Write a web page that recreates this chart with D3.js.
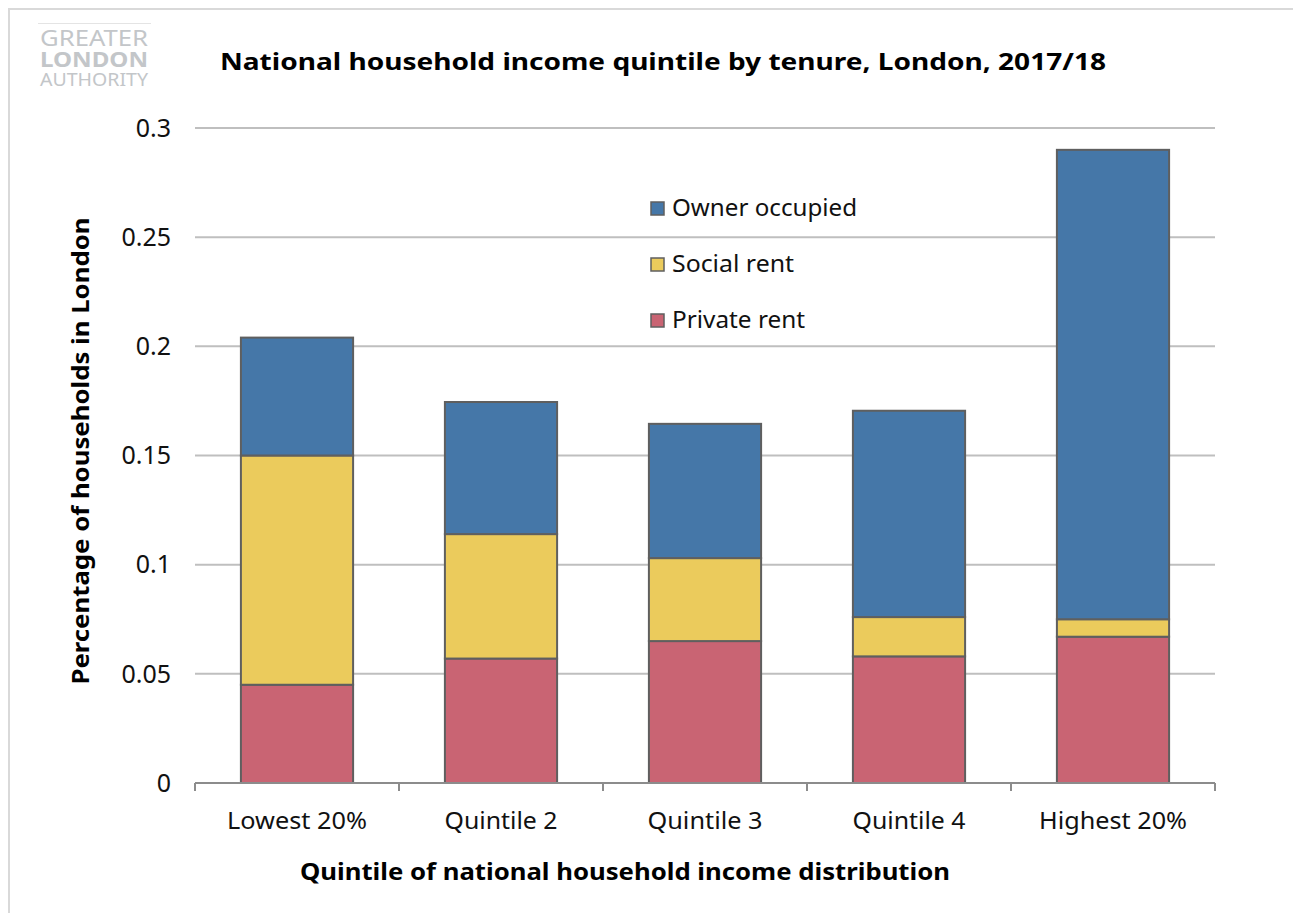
<!DOCTYPE html>
<html><head><meta charset="utf-8">
<script src="https://cdn.jsdelivr.net/npm/d3@7"></script>
<style>body{margin:0;background:#fff}svg{display:block}text{font-family:"Noto Sans","Open Sans",sans-serif}</style>
</head><body>
<script>
const categories = ["Lowest 20%", "Quintile 2", "Quintile 3", "Quintile 4", "Highest 20%"];
const seriesNames = ["Private rent", "Social rent", "Owner occupied"];
const privateRent = [0.045, 0.057, 0.065, 0.058, 0.067];
const socialRent = [0.105, 0.057, 0.038, 0.018, 0.008];
const ownerOccupied = [0.054, 0.0605, 0.0615, 0.0945, 0.215];
const yTicks = [0, 0.05, 0.1, 0.15, 0.2, 0.25, 0.3];
const colors = {"Private rent": "#C96473", "Social rent": "#EBCB5C", "Owner occupied": "#4577A8"};

const W = 1293, H = 913;
const svg = d3.select("body").append("svg").attr("width", W).attr("height", H);
// frame
svg.append("rect").attr("x", 9).attr("y", 9).attr("width", W + 10).attr("height", H + 10)
  .attr("fill", "none").attr("stroke", "#d9d9d9").attr("stroke-width", 2);

// logo (single text block)
svg.append("line").attr("x1", 38).attr("x2", 151).attr("y1", 23.5).attr("y2", 23.5).attr("stroke", "#e4e4e4").attr("stroke-width", 1);
const logo = svg.append("text").attr("text-anchor", "middle").attr("fill", "#c3c6c9");
logo.append("tspan").attr("x", 94).attr("y", 46).attr("font-size", 21)
  .attr("textLength", 108).attr("lengthAdjust", "spacingAndGlyphs").text("GREATER");
logo.append("tspan").attr("x", 94).attr("y", 67).attr("font-size", 21).attr("font-weight", "bold")
  .attr("textLength", 108).attr("lengthAdjust", "spacingAndGlyphs").text("LONDON");
logo.append("tspan").attr("x", 94).attr("y", 86).attr("font-size", 18)
  .attr("textLength", 108).attr("lengthAdjust", "spacingAndGlyphs").text("AUTHORITY");

const x0 = 195, x1 = 1215, yTop = 128, yBot = 783;
const x = d3.scaleBand().domain(categories).range([x0, x1]).paddingInner(0.45).paddingOuter(0.225);
const y = d3.scaleLinear().domain([0, 0.3]).range([yBot, yTop]);

// gridlines
svg.append("g").selectAll("line").data(yTicks.filter(d => d > 0)).join("line")
  .attr("x1", x0).attr("x2", x1).attr("y1", d => y(d)).attr("y2", d => y(d))
  .attr("stroke", "#bfbfbf").attr("stroke-width", 2);

// y labels
svg.append("g").selectAll("text").data(yTicks).join("text")
  .attr("x", 171).attr("y", d => y(d)).attr("dy", "0.35em").attr("text-anchor", "end")
  .attr("font-size", 25).attr("fill", "#111").text(d => d3.format("")(d));

// stacked bars
const rows = categories.map((c, i) => ({cat: c, "Private rent": privateRent[i], "Social rent": socialRent[i], "Owner occupied": ownerOccupied[i]}));
const stack = d3.stack().keys(seriesNames)(rows);
svg.append("g").selectAll("g").data(stack).join("g").attr("fill", d => colors[d.key])
  .selectAll("rect").data(d => d).join("rect")
  .attr("x", d => x(d.data.cat)).attr("width", x.bandwidth())
  .attr("y", d => y(d[1])).attr("height", d => y(d[0]) - y(d[1]))
  .attr("stroke", "#5f5f5f").attr("stroke-width", 2);

// x axis
const xAxis = svg.append("g");
xAxis.append("line").attr("x1", x0).attr("x2", x1).attr("y1", yBot).attr("y2", yBot).attr("stroke", "#8c8c8c").attr("stroke-width", 2);
const bounds = categories.map((c, i) => x0 + i * (x1 - x0) / categories.length).concat([x1]);
xAxis.selectAll("line.t").data(bounds).join("line").attr("class", "t")
  .attr("x1", d => d).attr("x2", d => d).attr("y1", yBot).attr("y2", yBot + 8).attr("stroke", "#8c8c8c").attr("stroke-width", 2);
xAxis.selectAll("text").data(categories).join("text")
  .attr("x", d => x(d) + x.bandwidth() / 2).attr("y", 829).attr("text-anchor", "middle")
  .attr("font-size", 24).attr("fill", "#111")
  .attr("textLength", (d, i) => [140, 113, 115, 113, 148][i]).attr("lengthAdjust", "spacingAndGlyphs")
  .text(d => d);

// titles
svg.append("text").attr("x", 220).attr("y", 70).attr("font-size", 24).attr("font-weight", "bold").attr("fill", "#000")
  .attr("textLength", 886).attr("lengthAdjust", "spacingAndGlyphs")
  .text("National household income quintile by tenure, London, 2017/18");
svg.append("text").attr("x", 625).attr("y", 880).attr("text-anchor", "middle").attr("font-size", 23).attr("font-weight", "bold").attr("fill", "#000")
  .attr("textLength", 650).attr("lengthAdjust", "spacingAndGlyphs")
  .text("Quintile of national household income distribution");
svg.append("text").attr("transform", "translate(89,451) rotate(-90)").attr("text-anchor", "middle").attr("font-size", 23).attr("font-weight", "bold").attr("fill", "#000")
  .attr("textLength", 467).attr("lengthAdjust", "spacingAndGlyphs")
  .text("Percentage of households in London");

// legend
const legendItems = ["Owner occupied", "Social rent", "Private rent"];
const legendWidths = {"Owner occupied": 185, "Social rent": 122, "Private rent": 133};
const lg = svg.append("g").selectAll("g").data(legendItems).join("g")
  .attr("transform", (d, i) => `translate(651,${208 + i * 56})`);
lg.append("rect").attr("x", 0).attr("y", -6).attr("width", 13).attr("height", 13)
  .attr("fill", d => colors[d]).attr("stroke", "#5f5f5f").attr("stroke-width", 1.5);
lg.append("text").attr("x", 21).attr("y", 0).attr("dy", "0.35em").attr("font-size", 24).attr("fill", "#111")
  .attr("textLength", d => legendWidths[d]).attr("lengthAdjust", "spacingAndGlyphs").text(d => d);
</script>
</body></html>
